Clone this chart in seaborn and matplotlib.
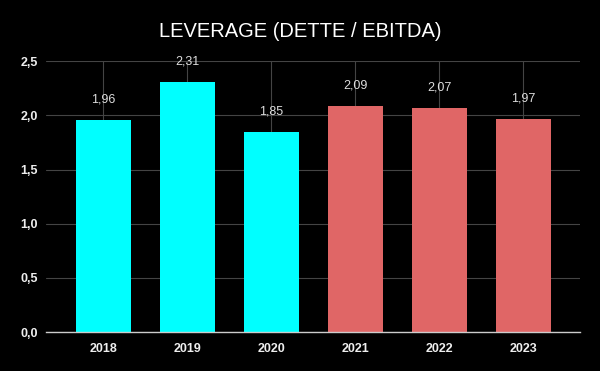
import matplotlib.pyplot as plt
import seaborn as sns
import pandas as pd
from matplotlib.ticker import FuncFormatter

years = ["2018", "2019", "2020", "2021", "2022", "2023"]
leverage = [1.96, 2.31, 1.85, 2.09, 2.07, 1.97]
bar_colors = ["#00ffff", "#00ffff", "#00ffff", "#e06666", "#e06666", "#e06666"]
y_ticks = [0.0, 0.5, 1.0, 1.5, 2.0, 2.5]

df = pd.DataFrame({"year": years, "leverage": leverage})

sns.set_theme(style="dark")
plt.rcParams["font.family"] = ["Liberation Sans", "DejaVu Sans"]

fig = plt.figure(figsize=(6, 3.71), dpi=100, facecolor="black")
ax = fig.add_axes([0.077, 0.105, 0.89, 0.73])
ax.set_facecolor("black")

sns.barplot(data=df, x="year", y="leverage", hue="year", palette=bar_colors,
            legend=False, width=0.655, saturation=1, linewidth=0, ax=ax, zorder=2)

for i, v in enumerate(leverage):
    ax.text(i, v + 0.13, f"{v:.2f}".replace(".", ","), ha="center", va="bottom",
            color="#dddddd", fontsize=9)

ax.set_ylim(0, 2.5)
ax.set_xlim(-0.68, 5.68)
ax.set_yticks(y_ticks)
ax.yaxis.set_major_formatter(FuncFormatter(lambda v, p: f"{v:.1f}".replace(".", ",")))
ax.grid(True, color="#444444", linewidth=0.8, zorder=0)
ax.set_axisbelow(True)
for s in ["top", "right", "left"]:
    ax.spines[s].set_visible(False)
ax.spines["bottom"].set_color("#cccccc")
ax.spines["bottom"].set_linewidth(1)
ax.spines["bottom"].set_zorder(3)
ax.tick_params(axis="both", length=0, colors="#eeeeee", labelsize=9)
ax.tick_params(axis="x", pad=8)
ax.tick_params(axis="y", pad=6)
for lab in ax.get_xticklabels() + ax.get_yticklabels():
    lab.set_fontweight("bold")
ax.set_xlabel("")
ax.set_ylabel("")

fig.suptitle("LEVERAGE (DETTE / EBITDA)", color="white", fontsize=14.5, y=0.94)

plt.savefig("out.png", dpi=100, facecolor="black")
plt.close()
